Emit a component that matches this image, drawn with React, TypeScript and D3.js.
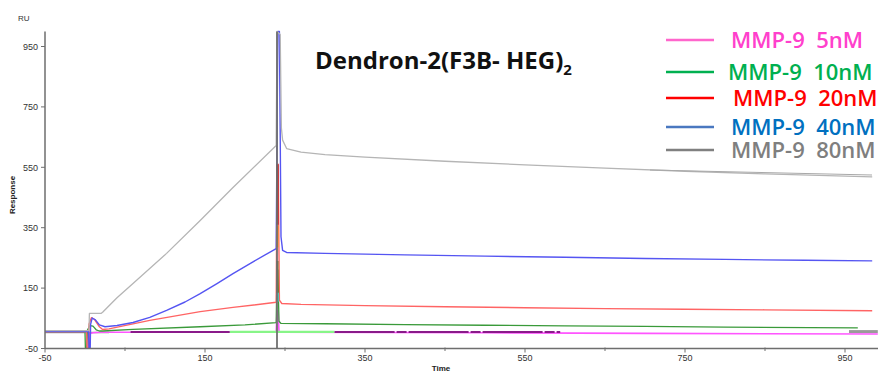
import React from "react";
import * as d3 from "d3";

// ---------- data ----------
const xTicksMajor = [-50, 150, 350, 550, 750, 950];
const xTicksMinor = [50, 250, 450, 650, 850];
const yTicks = [-50, 150, 350, 550, 750, 950];

// MMP-9 80nM (gray)
const t80 = [-50, 5, 5.5, 20, 22, 40, 60, 102, 144, 185, 239, 240, 244, 245.5, 247, 252, 270, 300, 350, 450, 550, 650, 750, 850, 984];
const v80 = [9, 9, 66, 66, 70, 118, 165, 265, 374, 483, 622, 1000, 990, 680, 640, 612, 600, 592, 584, 570, 558, 547, 537, 528, 518];

// MMP-9 40nM (blue)
const t40 = [-50, 4.5, 5, 6.5, 7, 9, 13, 18, 25, 40, 60, 81, 102, 125, 144, 165, 185, 210, 239, 241, 243, 245, 247, 252, 300, 400, 500, 600, 700, 800, 900, 984];
const v40 = [6, 6, -50, -50, 30, 51, 45, 28, 22, 26, 36, 53, 76, 104, 132, 165, 198, 237, 281, 1000, 1000, 320, 275, 268, 265, 260, 256, 252, 248, 245, 242, 240];

// MMP-9 20nM (red)
const t20 = [-50, 2, 2.5, 4.5, 5, 8, 12, 18, 22, 30, 81, 144, 185, 239, 240, 241.5, 243, 246, 270, 350, 450, 550, 650, 750, 850, 984];
const v20 = [5, 5, -50, -50, 30, 52, 46, 22, 13, 15, 43, 72, 86, 103, 560, 560, 110, 99, 96, 92, 88, 85, 82, 80, 78, 75];

// MMP-9 10nM (green)
const t10 = [-50, 0, 0.5, 2, 3, 6, 10, 14, 18, 22, 60, 144, 200, 239, 240, 241, 242.5, 245, 300, 400, 500, 600, 700, 800, 966];
const v10 = [5, 5, -50, -50, 10, 26, 24, 12, 8, 8, 13, 22, 28, 36, 210, 210, 40, 33, 32, 29, 27, 25, 23, 21, 18];

// MMP-9 5nM (magenta)
const t5 = [3.5, 4, 5.5, 6, 10, 20, 239, 240, 241.5, 242.5, 500, 700, 991];
const v5 = [3, -50, -50, 0, 2, 4, 4, 75, 75, 4, 2, 0, -2];

// overlay traces on the baseline
const tPurpleA = [57, 181];
const vPurpleA = [5, 5];
const tPurpleB = [312, 594];
const vPurpleB = [5, 5];
const tLightGreen = [181, 312];
const vLightGreen = [5, 5];
const tBaseRef = [-50, 30];
const vBaseRef = [3, 3];
const tBaseRefR = [955, 991];
const vBaseRefR = [6, 6];

// short pieces inside the injection spike
const spikeT = [240.5, 240.5, 240.5, 240.8];
const spikeLo = [360, 285, 133, 105];
const spikeHi = [560, 357, 240, 135];

const markerT = 240;

const legendLabels = ["MMP-9  5nM", "MMP-9  10nM", "MMP-9  20nM", "MMP-9  40nM", "MMP-9  80nM"];

// ---------- styles ----------
const lineColors = { c80: "#b5b5b5", c40: "#5555f2", c20: "#ff6464", c10: "#3a9a3a", c5: "#ff55ff" };
const spikeColors = ["#8b0000", "#ffa500", "#556b00", "#40e0e0"];
const legendLineColors = ["#ff66cc", "#00b050", "#ff0000", "#4a78c0", "#808080"];
const legendTextColors = ["#ff40cc", "#00b050", "#ff0000", "#0070c0", "#7f7f7f"];
const legendY = [40, 72, 98, 127, 150];
const legendTextX = [731, 728, 733, 731, 731];

export default function App() {
  const W = 878, H = 372;
  const x = d3.scaleLinear().domain([-50, 950]).range([45, 845]);
  const y = d3.scaleLinear().domain([-50, 1000]).range([348.5, 31.4]);
  const line = d3.line<[number, number]>().x(d => x(d[0])).y(d => y(d[1]));
  const path = (ts: number[], vs: number[]) => line(ts.map((t, i) => [t, vs[i]] as [number, number])) || "";

  const axisColor = "#6e6e6e";
  const font = "'Liberation Sans', Arial, sans-serif";

  return (
    <svg width={W} height={H} style={{ position: "absolute", left: 0, top: 0, background: "#fff" }}>
      <rect width={W} height={H} fill="#fff" />
      <defs>
        <clipPath id="plot">
          <rect x={45} y={30} width={W - 45} height={319} />
        </clipPath>
      </defs>

      {/* curves */}
      <g clipPath="url(#plot)" fill="none" strokeLinejoin="round">
        <path d={path(tBaseRef, vBaseRef)} stroke="#9a9a9a" strokeWidth={1.6} />
        <path d={path(tBaseRefR, vBaseRefR)} stroke="#9a9a9a" strokeWidth={3} />
        <path d={path(t5, v5)} stroke={lineColors.c5} strokeWidth={1.6} />
        <path d={path(t10, v10)} stroke={lineColors.c10} strokeWidth={1.3} />
        <path d={path(tPurpleA, vPurpleA)} stroke="#8a1a8a" strokeWidth={2} />
        <path d={path(tLightGreen, vLightGreen)} stroke="#88f588" strokeWidth={2.2} />
        <path d={path(tPurpleB, vPurpleB)} stroke="#8a1a8a" strokeWidth={2} strokeDasharray="60 2 10 2" />
        <path d={path(t20, v20)} stroke={lineColors.c20} strokeWidth={1.4} />
        <path d={path(t40, v40)} stroke={lineColors.c40} strokeWidth={1.4} />
        <path d={path(t80, v80)} stroke={lineColors.c80} strokeWidth={1.3} />
        {spikeT.map((t, i) => (
          <line key={i} x1={x(t)} x2={x(t)} y1={y(spikeLo[i])} y2={y(spikeHi[i])} stroke={spikeColors[i]} strokeWidth={2} />
        ))}
      </g>

      {/* injection marker */}
      <line x1={x(markerT)} x2={x(markerT)} y1={y(1000)} y2={y(-50)} stroke="#707070" strokeWidth={1.8} />

      {/* axes */}
      <line x1={45} x2={45} y1={y(1000)} y2={y(-50)} stroke={axisColor} strokeWidth={1.5} />
      <line x1={45} x2={W} y1={y(-50)} y2={y(-50)} stroke={axisColor} strokeWidth={1.5} />
      {yTicks.map(v => (
        <g key={"y" + v}>
          <line x1={41} x2={45} y1={y(v)} y2={y(v)} stroke={axisColor} strokeWidth={1} />
          <text x={38} y={y(v) + 3.2} textAnchor="end" fontSize={9} fontFamily={font} fill="#333">{v}</text>
        </g>
      ))}
      {xTicksMajor.map(v => (
        <g key={"x" + v}>
          <line x1={x(v)} x2={x(v)} y1={y(-50)} y2={y(-50) + 4} stroke={axisColor} strokeWidth={1} />
          <text x={x(v)} y={361} textAnchor="middle" fontSize={9} fontFamily={font} fill="#333">{v}</text>
        </g>
      ))}
      {xTicksMinor.map(v => (
        <line key={"xm" + v} x1={x(v)} x2={x(v)} y1={y(-50) - 1} y2={y(-50) + 2.5} stroke={axisColor} strokeWidth={1} />
      ))}
      <text x={18} y={21} fontSize={8} fontFamily={font} fill="#333">RU</text>
      <text transform="translate(15,195) rotate(-90)" textAnchor="middle" fontSize={8} fontWeight="bold" fontFamily={font} fill="#222">Response</text>
      <text x={441} y={371} textAnchor="middle" fontSize={8} fontWeight="bold" fontFamily={font} fill="#222">Time</text>

      {/* title */}
      <text x={315} y={69} fontSize={24} fontWeight="bold" fontFamily="'Open Sans', sans-serif" fill="#111">
        Dendron-2(F3B- HEG)<tspan dy={6} fontSize={15}>2</tspan>
      </text>

      {/* legend */}
      {legendLabels.map((lab, i) => (
        <g key={lab}>
          <line x1={666} x2={714} y1={legendY[i]} y2={legendY[i]} stroke={legendLineColors[i]} strokeWidth={2.5} />
          <text x={legendTextX[i]} y={legendY[i] + 7.5} fontSize={22} fontWeight={600} fontFamily="'Open Sans', sans-serif" fill={legendTextColors[i]} style={{ whiteSpace: "pre" }}>{lab}</text>
        </g>
      ))}
      <line x1={650} x2={872} y1={170} y2={175} stroke="#a8a8a8" strokeWidth={1} />
    </svg>
  );
}
